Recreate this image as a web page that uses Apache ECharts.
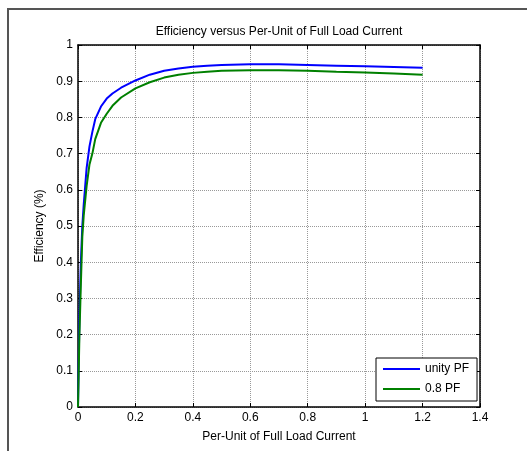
<!DOCTYPE html>
<html>
<head>
<meta charset="utf-8">
<script src="https://cdn.jsdelivr.net/npm/echarts@6/dist/echarts.min.js"></script>
<style>
  html, body { margin: 0; padding: 0; background: #fff; }
  #main { width: 527px; height: 451px; }
</style>
</head>
<body>
<div id="main"></div>
<script>
// per-unit load current (x) and efficiency
var perUnit = [0, 0.005, 0.01, 0.015, 0.02, 0.03, 0.04, 0.05, 0.06, 0.08, 0.1, 0.12, 0.15, 0.2,
               0.25, 0.3, 0.35, 0.4, 0.45, 0.5, 0.6, 0.7, 0.8, 0.9, 1.0, 1.1, 1.2];
var unityPF = [0, 0.25, 0.40, 0.50, 0.56, 0.66, 0.72, 0.76, 0.795, 0.83, 0.852, 0.866, 0.882, 0.902,
               0.918, 0.929, 0.935, 0.940, 0.943, 0.945, 0.947, 0.947, 0.945, 0.943, 0.941, 0.939, 0.937];
var pf08 = [0, 0.20, 0.34, 0.47, 0.53, 0.61, 0.67, 0.70, 0.74, 0.785, 0.81, 0.832, 0.855, 0.880,
            0.897, 0.910, 0.918, 0.923, 0.926, 0.929, 0.930, 0.930, 0.929, 0.926, 0.924, 0.921, 0.918];

function pairs(xs, ys) {
    return xs.map(function (x, i) { return [x, ys[i]]; });
}

var font = 'Liberation Sans, Arial, sans-serif';
var myChart = echarts.init(document.getElementById('main'));

// plain axis pieces used on all four sides (box like matlab)
var tick = { show: true, inside: true, length: 4, lineStyle: { color: '#000' } };
var line = { show: true, onZero: false, lineStyle: { color: '#000', width: 1.5 } };
var grid = { show: true, lineStyle: { color: '#999', type: 'dotted', width: 1 } };

myChart.setOption({
    animation: false,
    backgroundColor: '#fff',
    textStyle: { fontFamily: font },
    graphic: [{
        type: 'rect',
        shape: { x: 8, y: 9, width: 540, height: 460 },
        style: { fill: 'none', stroke: '#555', lineWidth: 2 },
        silent: true
    }],
    title: {
        text: 'Efficiency versus Per-Unit of Full Load Current',
        left: 274, top: 21, textAlign: 'center',
        textStyle: { fontSize: 12, fontWeight: 'normal', color: '#000', fontFamily: font }
    },
    grid: { left: 78, right: 47, top: 45, bottom: 44 },
    legend: {
        orient: 'vertical',
        left: 376, top: 358,
        data: ['unity PF', '0.8 PF'],
        icon: 'rect',
        itemWidth: 37, itemHeight: 2, itemGap: 8,
        padding: [5, 8, 6, 7],
        backgroundColor: '#fff',
        borderColor: '#000', borderWidth: 1, borderRadius: 0,
        textStyle: { fontSize: 12, color: '#000', fontFamily: font }
    },
    xAxis: [{
        type: 'value', min: 0, max: 1.4, interval: 0.2,
        name: 'Per-Unit of Full Load Current', nameLocation: 'middle', nameGap: 24,
        nameTextStyle: { fontSize: 12, color: '#000' },
        axisLine: line, axisTick: tick, splitLine: grid,
        axisLabel: { fontSize: 12, color: '#000', margin: 5 }
    }, {
        type: 'value', position: 'top', min: 0, max: 1.4, interval: 0.2,
        axisLine: line, axisTick: tick, splitLine: { show: false }, axisLabel: { show: false }
    }],
    yAxis: [{
        type: 'value', min: 0, max: 1, interval: 0.1,
        name: 'Efficiency (%)', nameLocation: 'middle', nameGap: 31,
        nameTextStyle: { fontSize: 12, color: '#000' },
        axisLine: line, axisTick: tick, splitLine: grid,
        axisLabel: { fontSize: 12, color: '#000', margin: 5 }
    }, {
        type: 'value', position: 'right', min: 0, max: 1, interval: 0.1,
        axisLine: line, axisTick: tick, splitLine: { show: false }, axisLabel: { show: false }
    }],
    series: [{
        name: 'unity PF',
        type: 'line',
        data: pairs(perUnit, unityPF),
        showSymbol: false, symbol: 'none',
        itemStyle: { color: '#0000ff' },
        lineStyle: { color: '#0000ff', width: 2 }
    }, {
        name: '0.8 PF',
        type: 'line',
        data: pairs(perUnit, pf08),
        showSymbol: false, symbol: 'none',
        itemStyle: { color: '#008000' },
        lineStyle: { color: '#008000', width: 2 }
    }]
});
</script>
</body>
</html>
